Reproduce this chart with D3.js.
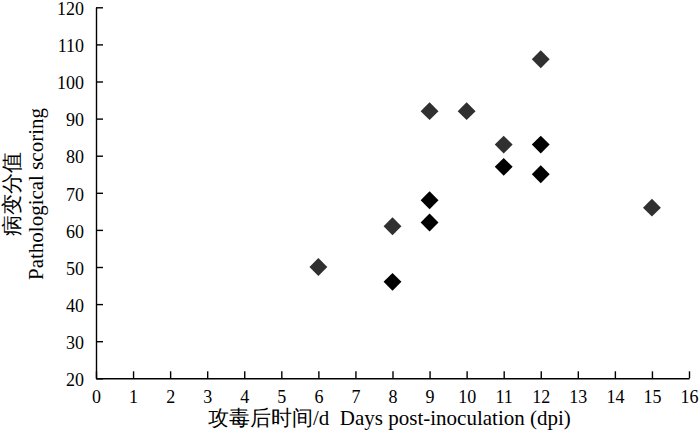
<!DOCTYPE html>
<html><head><meta charset="utf-8">
<script src="https://cdn.jsdelivr.net/npm/d3@7"></script>
<style>body{margin:0;background:#fff}svg{display:block}text{font-family:"Liberation Serif","Times New Roman",serif}</style>
</head><body><svg id="c" width="700" height="435"></svg>
<script>
const xTicks = d3.range(0, 17);
const yTicks = d3.range(20, 121, 10);
const grayDays   = [6, 8, 9, 10, 11, 12, 15];
const grayScores = [50, 61, 92, 92, 83, 106, 66];
const blackDays   = [8, 9, 9, 11, 12, 12];
const blackScores = [46, 68, 62, 77, 83, 75];
const xTitle = "攻毒后时间/d  Days post-inoculation (dpi)";
const yTitleCn = "病变分值";
const yTitleEn = "Pathological scoring";

const svg = d3.select("#c");
const m = {l: 96, r: 11, t: 7.3, b: 56.7};
const W = 700, H = 435;
const x = d3.scaleLinear().domain([0, 16]).range([m.l, W - m.r]);
const y = d3.scaleLinear().domain([20, 120]).range([H - m.b, m.t]);

const fs = "18px";
const tfs = "21px";
const cjk = "Liberation Serif, Noto Serif CJK SC, Noto Sans CJK SC";
const xa = svg.append("g").attr("transform", `translate(0,${H - m.b})`)
  .call(d3.axisBottom(x).tickValues(xTicks).tickSizeInner(-7).tickSizeOuter(0).tickPadding(12));
const ya = svg.append("g").attr("transform", `translate(${m.l},0)`)
  .call(d3.axisLeft(y).tickValues(yTicks).tickSizeInner(-7).tickSizeOuter(0).tickPadding(12));
[xa, ya].forEach(a => {
  a.select(".domain").attr("stroke", "#000").attr("stroke-width", 1.4);
  a.selectAll(".tick line").attr("stroke", "#000").attr("stroke-width", 1.4);
  a.selectAll("text").attr("font-family", "Liberation Serif").attr("font-size", fs).attr("fill", "#000");
});
ya.selectAll("text").attr("dy", "0.4em");

const sym = d3.symbol().type(d3.symbolSquare).size(160);
const draw = (xs, ys, col) => svg.append("g").selectAll("path").data(xs.map((d, i) => [d, ys[i]])).join("path")
  .attr("d", sym).attr("fill", col)
  .attr("transform", d => `translate(${x(d[0])},${y(d[1])}) rotate(45)`);
draw(grayDays, grayScores, "#303030");
draw(blackDays, blackScores, "#000");

svg.append("text").attr("x", 208).attr("y", 425).attr("text-anchor", "start")
  .style("white-space", "pre").attr("xml:space", "preserve")
  .attr("font-size", tfs).attr("font-family", cjk).text(xTitle);
svg.append("text").attr("transform", "translate(19,194) rotate(-90)").attr("text-anchor", "middle")
  .attr("font-size", tfs).attr("font-family", cjk).text(yTitleCn);
svg.append("text").attr("transform", "translate(43,194) rotate(-90)").attr("text-anchor", "middle")
  .attr("font-size", tfs).text(yTitleEn);
</script></body></html>
